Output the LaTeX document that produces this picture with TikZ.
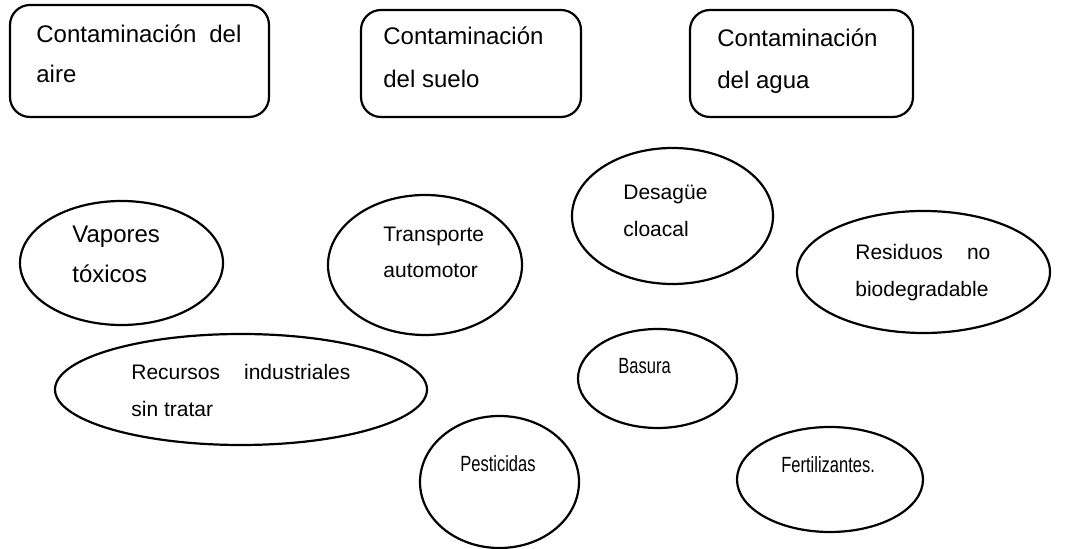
\documentclass[tikz,border=0pt]{standalone}
\usepackage{fontspec}
\setmainfont{Liberation Sans}
\newfontfamily\narrowfont[FakeStretch=0.75]{Liberation Sans}
\usetikzlibrary{shapes.geometric}

\tikzset{
  tema/.style={draw, rectangle, rounded corners=10pt, line width=1.1pt, inner sep=0pt},
  causa/.style={draw, ellipse, line width=1.1pt, inner sep=0pt},
  txt/.style={anchor=base west, inner sep=0pt},
  grande/.style={txt, font=\fontsize{12}{14}\selectfont},
  normal/.style={txt, font=\fontsize{10.5}{12}\selectfont},
  angosto/.style={txt, font=\narrowfont\fontsize{11}{13}\selectfont},
}

\begin{document}
\begin{tikzpicture}[x=0.5pt, y=-0.5pt]
  \useasboundingbox (0,0) rectangle (1067,549);

  % cuadros de contaminacion
  \node[tema, minimum width=129.5pt, minimum height=56pt] (aire) at (139.5,61) {};
  \node[grande] (aire1) at (36,43) {\makebox[102.5pt][s]{Contaminación del}};
  \node[grande] (aire2) at (36,83) {aire};

  \node[tema, minimum width=110pt, minimum height=53.5pt] (suelo) at (471,63.5) {};
  \node[grande] (suelo1) at (383,45) {Contaminación};
  \node[grande] (suelo2) at (383,88) {del suelo};

  \node[tema, minimum width=111.5pt, minimum height=53.5pt] (agua) at (801.5,63.5) {};
  \node[grande] (agua1) at (717,47) {Contaminación};
  \node[grande] (agua2) at (717,89) {del agua};

  % causas
  \node[causa, minimum width=101.5pt, minimum height=62pt] (vapores) at (121.5,263) {};
  \node[grande] (vapores1) at (72,243) {Vapores};
  \node[grande] (vapores2) at (72,283) {tóxicos};

  \node[causa, minimum width=97pt, minimum height=70pt] (transporte) at (425,265) {};
  \node[normal] (transporte1) at (383,242) {Transporte};
  \node[normal] (transporte2) at (383,278) {automotor};

  \node[causa, minimum width=186pt, minimum height=55.5pt] (recursos) at (241,389.5) {};
  \node[normal] (recursos1) at (131,380) {\makebox[109.5pt][s]{Recursos industriales}};
  \node[normal] (recursos2) at (131,417) {sin tratar};

  \node[causa, minimum width=100.5pt, minimum height=68pt] (desague) at (672.5,216) {};
  \node[normal] (desague1) at (623,200) {Desagüe};
  \node[normal] (desague2) at (623,237) {cloacal};

  \node[causa, minimum width=126.5pt, minimum height=61pt] (residuos) at (923.5,272) {};
  \node[normal] (residuos1) at (855,260) {\makebox[67.5pt][s]{Residuos no}};
  \node[normal] (residuos2) at (855,297) {biodegradable};

  \node[causa, minimum width=79.5pt, minimum height=49.5pt] (basura) at (657.5,378.5) {};
  \node[angosto] (basura1) at (618,374) {Basura};

  \node[causa, minimum width=79.5pt, minimum height=66pt] (pesticidas) at (499.5,482) {};
  \node[angosto] (pesticidas1) at (460,472) {Pesticidas};

  \node[causa, minimum width=93pt, minimum height=52.5pt] (fertilizantes) at (830,479.5) {};
  \node[angosto] (fertilizantes1) at (781,473) {Fertilizantes.};
\end{tikzpicture}
\end{document}
